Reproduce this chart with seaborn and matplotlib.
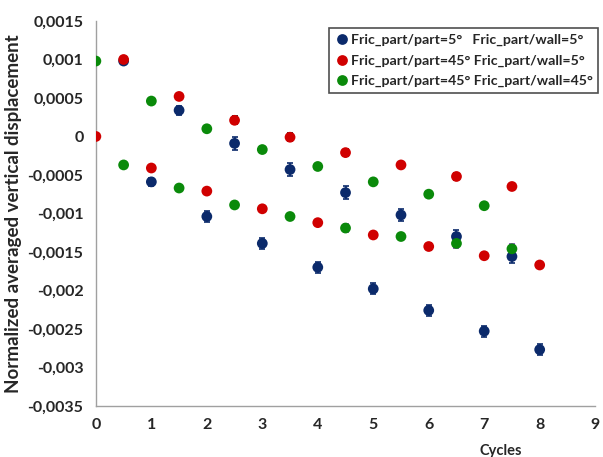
import matplotlib
matplotlib.use("Agg")
import matplotlib.pyplot as plt
from matplotlib.ticker import FuncFormatter, MultipleLocator
import seaborn as sns
import pandas as pd

sns.set_style("white")
plt.rcParams['font.family'] = ['Lato', 'DejaVu Sans']
plt.rcParams['font.weight'] = 'bold'

# cycles and normalized displacement
cycles_55 = [0.5, 1, 1.5, 2, 2.5, 3, 3.5, 4, 4.5, 5, 5.5, 6, 6.5, 7, 7.5, 8]
disp_55 = [0.00098, -0.00059, 0.00034, -0.00104, -0.00009, -0.00139, -0.00043, -0.0017,
           -0.00073, -0.00198, -0.00102, -0.00226, -0.0013, -0.00253, -0.00156, -0.00277]
err_55 = [0.00003, 0.00005, 0.00006, 0.00007, 0.00008, 0.00007, 0.00008, 0.00007,
          0.00008, 0.00007, 0.00008, 0.00007, 0.00008, 0.00007, 0.00008, 0.00007]

cycles_455 = [0, 0.5, 1, 1.5, 2, 2.5, 3, 3.5, 4, 4.5, 5, 5.5, 6, 6.5, 7, 7.5, 8]
disp_455 = [0.0, 0.001, -0.00041, 0.00052, -0.00071, 0.00021, -0.00094, -0.00001, -0.00112,
            -0.00021, -0.00128, -0.00037, -0.00143, -0.00052, -0.00155, -0.00065, -0.00167]
err_455 = [0.00002, 0.00002, 0.00003, 0.00003, 0.00003, 0.00005, 0.00004, 0.00005, 0.00004,
           0.00005, 0.00004, 0.00004, 0.00004, 0.00004, 0.00003, 0.00003, 0.00003]

cycles_4545 = [0, 0.5, 1, 1.5, 2, 2.5, 3, 3.5, 4, 4.5, 5, 5.5, 6, 6.5, 7, 7.5]
disp_4545 = [0.00098, -0.00037, 0.00046, -0.00067, 0.0001, -0.00089, -0.00017, -0.00104,
             -0.00039, -0.00119, -0.00059, -0.0013, -0.00075, -0.00139, -0.0009, -0.00146]
err_4545 = [0.00002, 0.00002, 0.00002, 0.00003, 0.00003, 0.00004, 0.00003, 0.00005,
            0.00003, 0.00005, 0.00003, 0.00005, 0.00004, 0.00006, 0.00004, 0.00006]

labels = ['Fric_part/part=5°   Fric_part/wall=5°',
          'Fric_part/part=45° Fric_part/wall=5°',
          'Fric_part/part=45° Fric_part/wall=45°']
colors = ['#0B2A6B', '#D00000', '#0A8A0A']
cap_colors = ['#0B2A6B', '#111111', '#7A3FB0']

series = [(cycles_55, disp_55, err_55), (cycles_455, disp_455, err_455),
          (cycles_4545, disp_4545, err_4545)]

df = pd.concat([pd.DataFrame({'Cycles': c, 'disp': d, 'case': lab})
                for (c, d, e), lab in zip(series, labels)], ignore_index=True)

fig = plt.figure(figsize=(6.03, 4.57), dpi=100)
ax = fig.add_axes([0.159, 0.112, 0.828, 0.842])

for (c, d, e), ec in zip(series, cap_colors):
    ax.errorbar(c, d, yerr=e, fmt='none', ecolor=ec, elinewidth=1.2, capsize=2.5, capthick=1.2, zorder=2)

sns.scatterplot(data=df, x='Cycles', y='disp', hue='case', palette=colors, s=60,
                edgecolor='none', ax=ax, zorder=3)

ax.set_xlim(0, 9)
ax.set_ylim(-0.0035, 0.0015)
ax.xaxis.set_major_locator(MultipleLocator(1))
ax.yaxis.set_major_locator(MultipleLocator(0.0005))
ax.yaxis.set_major_formatter(FuncFormatter(lambda v, p: f"{round(v, 4):g}".replace('.', ',')))

for side in ['top', 'right']:
    ax.spines[side].set_visible(False)
for side in ['left', 'bottom']:
    ax.spines[side].set_color('#A0A0A0')
    ax.spines[side].set_linewidth(1)
ax.tick_params(axis='both', direction='out', length=5, width=1, color='#A0A0A0',
               labelsize=11.5, pad=4)
for lab in ax.get_xticklabels() + ax.get_yticklabels():
    lab.set_fontweight('bold')

ax.set_ylabel('Normalized averaged vertical displacement', fontsize=13.5, fontweight='bold')
ax.set_xlabel('Cycles', fontsize=10.5, fontweight='bold')
ax.xaxis.set_label_coords(0.81, -0.1)

leg = ax.legend(loc='upper right', bbox_to_anchor=(1.02, 1.0), frameon=True, fancybox=False,
                handletextpad=0.1, handlelength=1.0, borderpad=0.4, labelspacing=0.6,
                prop={'weight': 'bold', 'size': 10.2})
leg.get_frame().set_edgecolor('#222222')
leg.get_frame().set_linewidth(1.2)

fig.savefig('out.png', dpi=100)
